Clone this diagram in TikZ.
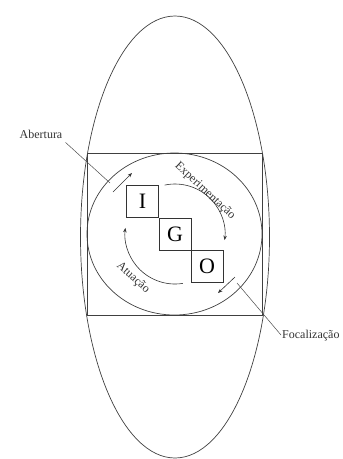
\documentclass[tikz,border=0pt]{standalone}
\usepackage{fontspec}
\setmainfont{Liberation Serif}
\usetikzlibrary{shapes.geometric,arrows.meta}
\tikzset{
  outline/.style={draw=black!75, line width=0.7pt},
  letterbox/.style={draw=black!80, line width=0.6pt, minimum size=32pt, inner sep=0pt, font=\fontsize{22}{22}\selectfont},
  lbl/.style={inner sep=0pt, font=\fontsize{12}{12}\selectfont, text=black!80},
  leader/.style={draw=black!70, line width=0.5pt},
  cyc/.style={draw=black!80, line width=0.6pt, -{Stealth[length=4.5pt,width=3.5pt]}}
}
\begin{document}
\begin{tikzpicture}[x=1pt,y=-1pt]
\useasboundingbox (0,0) rectangle (343,459);
% big ellipse
\node[outline, ellipse, minimum width=189pt, minimum height=442pt, inner sep=0pt] (egg) at (175,237) {};
% rectangle
\node[outline, rectangle, minimum width=175pt, minimum height=162pt, inner sep=0pt] (box) at (174.5,234) {};
% inscribed ellipse
\node[outline, ellipse, minimum width=175pt, minimum height=162pt, inner sep=0pt] (inner) at (174.5,234) {};
% squares
\node[letterbox] (I) at (142.5,201.5) {I};
\node[letterbox] (G) at (175,234) {G};
\node[letterbox] (O) at (207,266.5) {O};
% cycle arcs
\draw[cyc] (175,234) ++(258:50) arc[start angle=258, end angle=367, radius=50];
\draw[cyc] (175,234) ++(81:50) arc[start angle=81, end angle=187, radius=50];
% cycle labels
\node[lbl, rotate=-43] (exp) at (205,191) {Experimentação};
\node[lbl, rotate=-42] (atu) at (133,278) {Atuação};
% short arrows
\coordinate (a1) at (113,192);
\coordinate (a2) at (132,173);
\coordinate (b1) at (235,277);
\coordinate (b2) at (218,293);
\draw[cyc] (a1) -- (a2);
\draw[cyc] (b1) -- (b2);
% outer labels
\node[lbl, anchor=center] (abert) at (41,134) {Abertura};
\node[lbl, anchor=west] (focal) at (282,336) {Focalização};
\coordinate (pa) at (110,183);
\coordinate (pf) at (237,283);
\draw[leader] (abert.south east) ++(3,4) -- (pa);
\draw[leader] (focal.west) ++(-1,-1) -- (pf);
\end{tikzpicture}
\end{document}
